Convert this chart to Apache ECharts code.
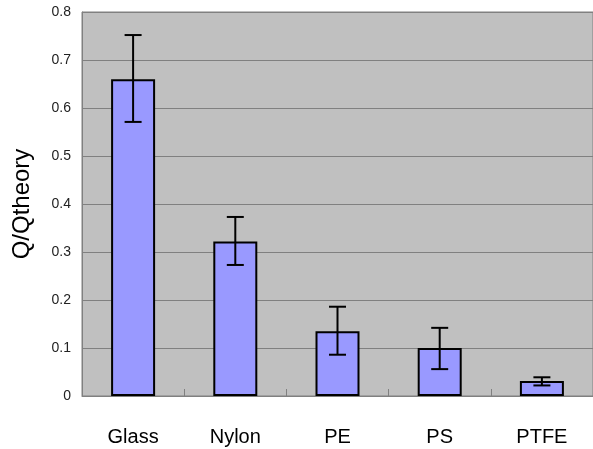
<!DOCTYPE html>
<html><head><meta charset="utf-8">
<script src="https://cdn.jsdelivr.net/npm/echarts@6/dist/echarts.min.js"></script>
<style>html,body{margin:0;padding:0;background:#fff}#c{width:593px;height:449px}</style>
</head><body><div id="c"></div>
<script>
var categories = ['Glass', 'Nylon', 'PE', 'PS', 'PTFE'];
var values = [0.66, 0.322, 0.135, 0.10, 0.031];
var errLow = [0.571, 0.273, 0.086, 0.056, 0.022];
var errHigh = [0.752, 0.373, 0.186, 0.142, 0.039];
var yTicks = [0, 0.1, 0.2, 0.3, 0.4, 0.5, 0.6, 0.7, 0.8];

var chart = echarts.init(document.getElementById('c'));
var errData = categories.map(function (c, i) { return [i, errLow[i], errHigh[i]]; });
chart.setOption({
  animation: false,
  grid: { left: 82, top: 12, right: 0, bottom: 53, show: true, backgroundColor: '#c0c0c0', borderColor: '#808080', borderWidth: 1 },
  xAxis: {
    type: 'category', data: categories,
    axisLine: { lineStyle: { color: '#808080', width: 1 } },
    axisTick: { show: true, inside: true, length: 7, lineStyle: { color: '#808080' } },
    axisLabel: { color: '#000', fontFamily: 'Liberation Sans, Arial, sans-serif', fontSize: 20, margin: 31 }
  },
  yAxis: {
    type: 'value', min: 0, max: 0.8, interval: 0.1,
    name: 'Q/Qtheory', nameLocation: 'middle', nameGap: 48, nameRotate: 90,
    nameTextStyle: { color: '#000', fontFamily: 'Liberation Sans, Arial, sans-serif', fontSize: 24 },
    axisLine: { show: true, lineStyle: { color: '#808080' } },
    axisTick: { show: false },
    splitLine: { lineStyle: { color: '#808080', width: 1 } },
    axisLabel: { color: '#222', fontFamily: 'Liberation Sans, Arial, sans-serif', fontSize: 14, margin: 11,
      formatter: function (v) { return String(Math.round(v * 10) / 10); } }
  },
  series: [
    { type: 'bar', data: values, barWidth: 44,
      itemStyle: { color: '#9999ff', borderColor: '#000', borderWidth: 2 } },
    { type: 'custom', data: errData, z: 10,
      renderItem: function (params, api) {
        var x = api.value(0);
        var lo = api.coord([x, api.value(1)]);
        var hi = api.coord([x, api.value(2)]);
        var hw = 8.5;
        var st = { stroke: '#000', lineWidth: 2 };
        return { type: 'group', children: [
          { type: 'line', shape: { x1: lo[0], y1: lo[1], x2: hi[0], y2: hi[1] }, style: st },
          { type: 'line', shape: { x1: hi[0] - hw, y1: hi[1], x2: hi[0] + hw, y2: hi[1] }, style: st },
          { type: 'line', shape: { x1: lo[0] - hw, y1: lo[1], x2: lo[0] + hw, y2: lo[1] }, style: st }
        ] };
      }
    }
  ]
});
</script></body></html>
